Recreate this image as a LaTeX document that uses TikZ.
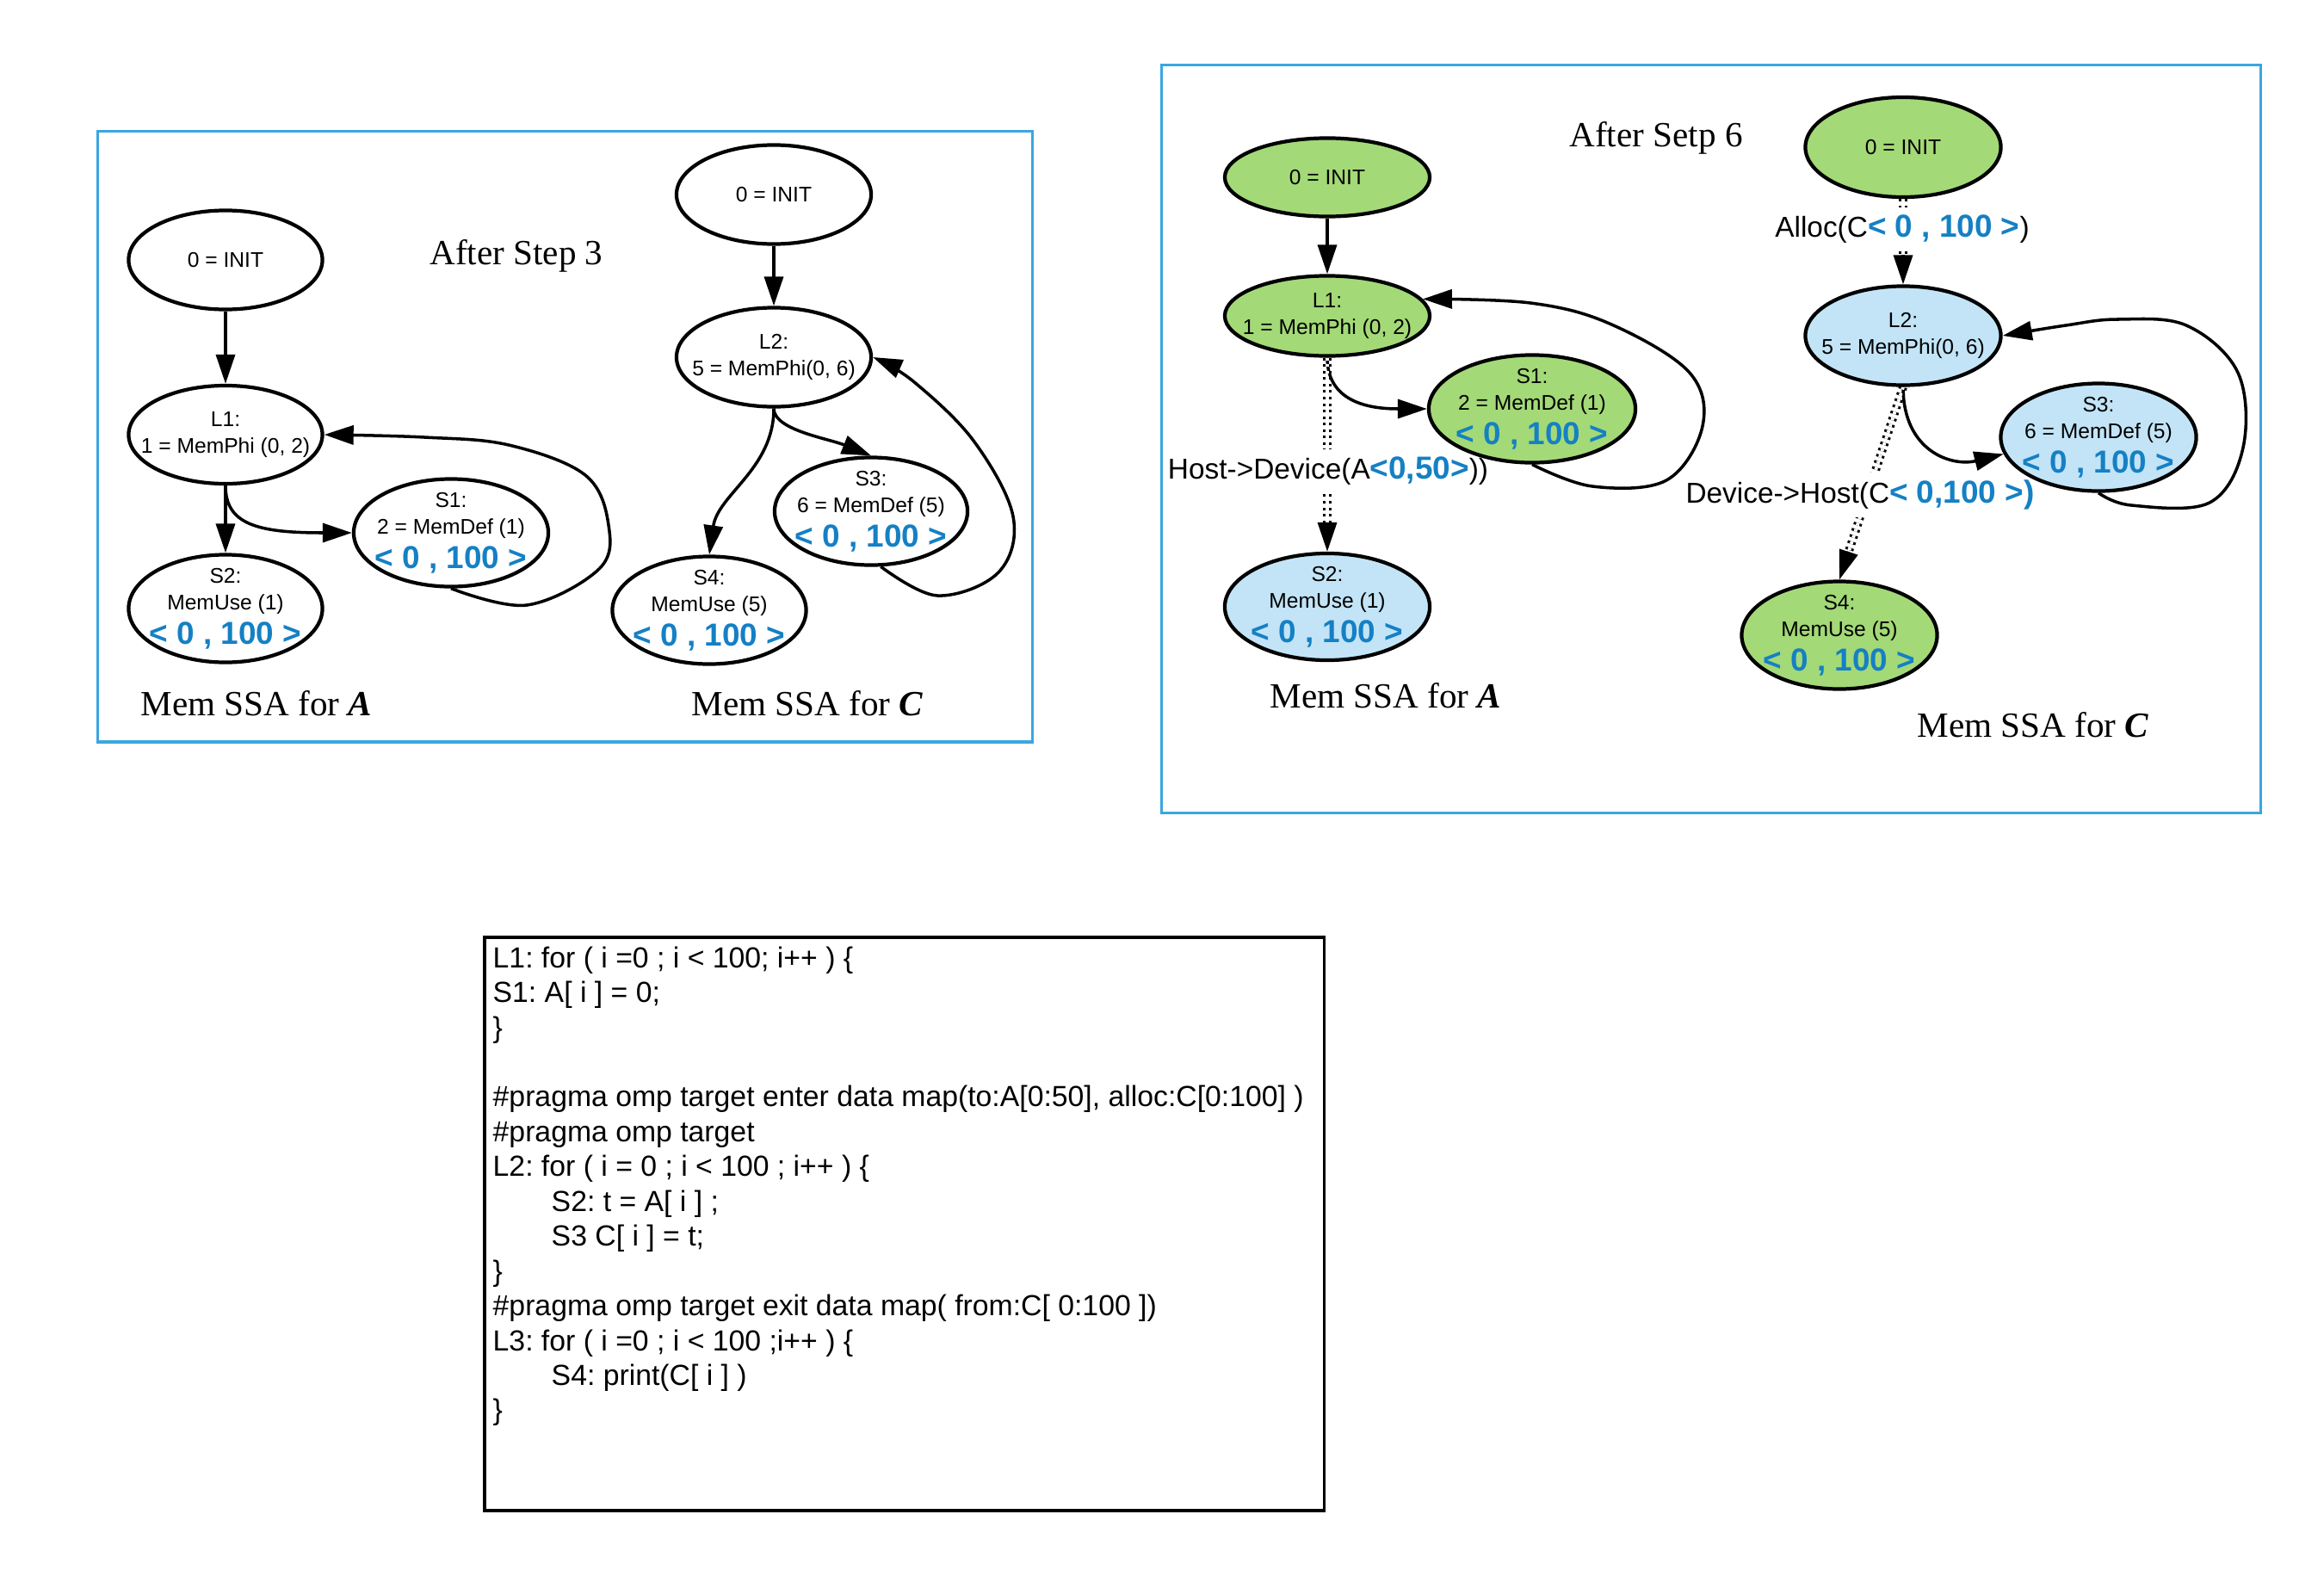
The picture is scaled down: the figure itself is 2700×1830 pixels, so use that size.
\documentclass[tikz,border=0pt]{standalone}
\usepackage{fontspec}
\setmainfont{Liberation Serif}
\newfontfamily\sansface{Liberation Sans}
\usetikzlibrary{shapes.geometric,arrows.meta,calc}
\pgfdeclarelayer{edges}
\pgfsetlayers{edges,main}

\definecolor{rangeblue}{HTML}{1580C4}
\definecolor{nodegreen}{HTML}{A3D977}
\definecolor{nodeblue}{HTML}{C2E4F6}
\definecolor{frameblue}{HTML}{3AA6E0}

% bold blue address range
\newcommand\rng[1]{{\fontsize{10.5}{12}\selectfont\bfseries\color{rangeblue}#1}}
\frenchspacing

\begin{document}
\begin{tikzpicture}[x=0.01cm,y=-0.01cm,
  ssa/.style={ellipse, draw, line width=1.2pt, inner sep=-1cm, align=center,
    font=\sansface\fontsize{7}{8.8}\selectfont},
  wfill/.style={fill=white},
  gfill/.style={fill=nodegreen},
  bfill/.style={fill=nodeblue},
  arr/.style={-{Triangle[length=0.34cm,width=0.22cm]}, line width=1pt},
  dd/.style={double, double distance=1.1pt, line width=0.85pt, dash pattern=on 0.85pt off 1.3pt},
  edgelab/.style={fill=white, inner xsep=1pt, inner ysep=2.5pt, font=\sansface\fontsize{9.5}{11}\selectfont},
  title/.style={font=\fontsize{11.7}{14}\selectfont},
  frame/.style={draw=frameblue, line width=0.9pt, anchor=north west, inner sep=0pt}
]
\useasboundingbox (0,0) rectangle (2700,1830);

% ---------- frames ----------
\node[frame, minimum width=10.85cm, minimum height=7.09cm] (fr1) at (112,151) {};
\node[frame, minimum width=12.76cm, minimum height=8.68cm] (fr2) at (1348,74) {};

% ---------- after step 3: array A ----------
\node[ssa, wfill, minimum width=2.25cm, minimum height=1.15cm] (a0) at (262,302) {0 = INIT};
\node[ssa, wfill, minimum width=2.25cm, minimum height=1.14cm] (a1) at (262,505) {L1:\\1 = MemPhi (0, 2)};
\node[ssa, wfill, minimum width=2.26cm, minimum height=1.25cm] (as1) at (524,619) {S1:\\2 = MemDef (1)\\[2.5pt]\rng{< 0 , 100 >}};
\node[ssa, wfill, minimum width=2.25cm, minimum height=1.25cm] (as2) at (262,707) {S2:\\MemUse (1)\\[2.5pt]\rng{< 0 , 100 >}};

% ---------- after step 3: array C ----------
\node[ssa, wfill, minimum width=2.26cm, minimum height=1.15cm] (c0) at (899,226) {0 = INIT};
\node[ssa, wfill, minimum width=2.26cm, minimum height=1.15cm] (c2) at (899,415) {L2:\\5 = MemPhi(0, 6)};
\node[ssa, wfill, minimum width=2.24cm, minimum height=1.25cm] (cs3) at (1012,594) {S3:\\6 = MemDef (5)\\[2.5pt]\rng{< 0 , 100 >}};
\node[ssa, wfill, minimum width=2.25cm, minimum height=1.25cm] (cs4) at (824,709) {S4:\\MemUse (5)\\[2.5pt]\rng{< 0 , 100 >}};

\node[title] (t3) at (600,297) {After Step 3};
\node[title] (ma1) at (298,817) {Mem SSA for \textbf{\textit{A}}};
\node[title] (mc1) at (938,817) {Mem SSA for \textbf{\textit{C}}};

% ---------- after step 6: array A ----------
\node[ssa, gfill, minimum width=2.38cm, minimum height=0.91cm] (b0) at (1542,206) {0 = INIT};
\node[ssa, gfill, minimum width=2.38cm, minimum height=0.93cm] (b1) at (1542,367) {L1:\\1 = MemPhi (0, 2)};
\node[ssa, gfill, minimum width=2.40cm, minimum height=1.25cm] (bs1) at (1780,475) {S1:\\2 = MemDef (1)\\[2.5pt]\rng{< 0 , 100 >}};
\node[ssa, bfill, minimum width=2.38cm, minimum height=1.24cm] (bs2) at (1542,705) {S2:\\MemUse (1)\\[2.5pt]\rng{< 0 , 100 >}};

% ---------- after step 6: array C ----------
\node[ssa, gfill, minimum width=2.27cm, minimum height=1.16cm] (d0) at (2211,171) {0 = INIT};
\node[ssa, bfill, minimum width=2.27cm, minimum height=1.15cm] (d2) at (2211,390) {L2:\\5 = MemPhi(0, 6)};
\node[ssa, bfill, minimum width=2.27cm, minimum height=1.25cm] (ds3) at (2438,508) {S3:\\6 = MemDef (5)\\[2.5pt]\rng{< 0 , 100 >}};
\node[ssa, gfill, minimum width=2.27cm, minimum height=1.25cm] (ds4) at (2137,738) {S4:\\MemUse (5)\\[2.5pt]\rng{< 0 , 100 >}};

\node[title] (t6) at (1924,160) {After Setp 6};
\node[title] (ma2) at (1610,808) {Mem SSA for \textbf{\textit{A}}};
\node[title] (mc2) at (2362,842) {Mem SSA for \textbf{\textit{C}}};

% ---------- connectors ----------
\begin{pgfonlayer}{edges}
  % step 3, A
  \draw[arr] (a0) -- (a1);
  \draw[arr] (a1) -- (as2);
  \draw[arr] (a1.south) .. controls +(0,45) and +(-110,0) .. (as1.west);
  \draw[arr] plot[smooth, tension=0.6] coordinates {(as1.south) (612,703) (696,661) (707,610) (680,552) (591,517) (493,508) (a1.east)};
  % step 3, C
  \draw[arr] (c0) -- (c2);
  \draw[arr] (c2.south) .. controls +(0,25) and +(-50,-20) .. (cs3.north);
  \draw[arr] (c2.south) .. controls +(0,70) and +(10,-70) .. (cs4.north);
  \draw[arr] plot[smooth, tension=0.6] coordinates {(cs3.-80) (1089,692) (1160,665) (1177,600) (1131,512) (1061,443) (c2.east)};
  % step 6, A
  \draw[arr] (b0) -- (b1);
  \draw[arr] (b1.south) .. controls +(0,55) and +(-60,0) .. (bs1.west);
  \draw[arr] plot[smooth, tension=0.6] coordinates {(bs1.south) (1850,565) (1936,558) (1978,495) (1962,432) (1870,376) (1778,352) (b1.10)};
  \draw[dd, shorten >=0.34cm] (b1.south) -- (bs2.north);
  \node[edgelab] (hd) at (1543,547) {Host->Device(A\rng{<0,50>}))};
  \draw[arr] ($(bs2.north)+(0,-34)$) -- (bs2.north);
  % step 6, C
  \draw[dd, shorten >=0.34cm] (d0.south) -- (d2.north);
  \node[edgelab] (al) at (2210,266) {Alloc(C\rng{< 0 , 100 >})};
  \draw[arr] ($(d2.north)+(0,-34)$) -- (d2.north);
  \draw[arr] (d2.south) .. controls +(0,75) and +(-60,15) .. (ds3.190);
  \draw[dd, shorten >=0.34cm] (d2.south) -- (ds4.north);
  \node[edgelab] (dh) at (2161,575) {Device->Host(C\rng{< 0,100 >)}};
  \draw[arr] ($(ds4.north)!0.34cm!(d2.south)$) -- (ds4.north);
  \draw[arr] plot[smooth, tension=0.6] coordinates {(ds3.south) (2476,587) (2567,584) (2606,520) (2600,433) (2540,378) (2460,371) (2400,378) (d2.east)};
\end{pgfonlayer}

% ---------- source code ----------
\node[draw, line width=1pt, anchor=north west, inner sep=0pt,
      minimum width=9.75cm, minimum height=6.66cm] (codebox) at (561,1087) {};
\node[anchor=north west, align=left, inner sep=0pt,
      font=\sansface\fontsize{9.6}{11.5}\selectfont] (code) at (572,1099) {%
L1: for ( i =0 ; i < 100; i++ ) \{\\
S1: A[ i ] = 0;\\
\}\\[11.5pt]
\#pragma omp target enter data map(to:A[0:50], alloc:C[0:100] )\\
\#pragma omp target\\
L2: for ( i = 0 ; i < 100 ; i++ ) \{\\
\hspace*{0.68cm}S2: t = A[ i ] ;\\
\hspace*{0.68cm}S3 C[ i ] = t;\\
\}\\
\#pragma omp target exit data map( from:C[ 0:100 ])\\
L3: for ( i =0 ; i < 100 ;i++ ) \{\\
\hspace*{0.68cm}S4: print(C[ i ] )\\
\}};
\end{tikzpicture}
\end{document}
